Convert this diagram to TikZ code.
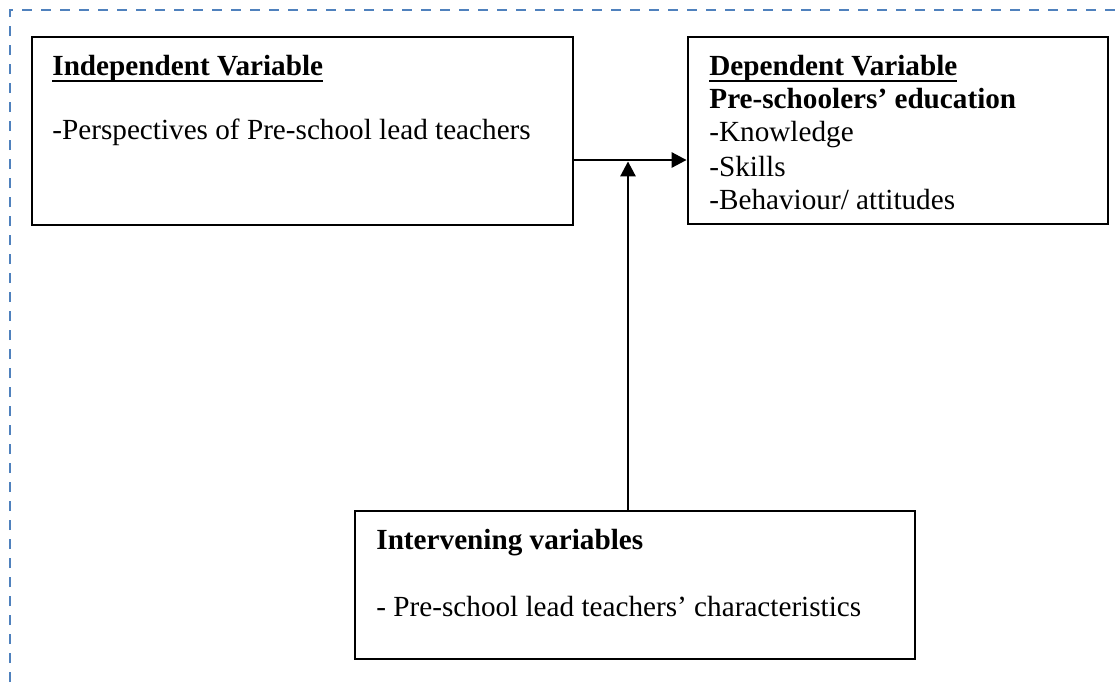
\documentclass[tikz,border=0pt]{standalone}
\usepackage{fontspec}
\setmainfont{Liberation Serif}
\usepackage{xcolor}
\usepackage{tikz}
\usetikzlibrary{arrows.meta}

\definecolor{frameblue}{RGB}{79,129,189}
\newsavebox{\ulbox}
\newcommand{\ulheading}[1]{\sbox{\ulbox}{\textbf{#1}}%
  \rlap{\vrule height -2.3pt depth 3.3pt width \wd\ulbox}\usebox{\ulbox}}

\begin{document}
\begin{tikzpicture}[x=0.5pt,y=-0.5pt,
    varbox/.style={draw,line width=1.4pt,rectangle,inner sep=0pt},
    txt/.style={anchor=base west,inner sep=0pt,font=\fontsize{14.6pt}{17pt}\selectfont},
    arr/.style={line width=1.4pt,-{Triangle[length=7.5pt,width=7.5pt]}}]
    \useasboundingbox (0,0) rectangle (1118,682);
    % dashed frame
    \draw[frameblue,line width=1.2pt,dash pattern=on 5pt off 4.5pt]
      (10,682) -- (10,10) -- (1118,10);
    % boxes
    \node[varbox,minimum width=270.5pt,minimum height=94pt] (indep) at (302.5,131) {};
    \node[varbox,minimum width=210pt,minimum height=93.5pt] (dep) at (898,130.5) {};
    \node[varbox,minimum width=280pt,minimum height=74pt] (interv) at (635,585) {};
    % texts
    \node[txt] (indephead) at (52,75) {\ulheading{Independent Variable}};
    \node[txt] (indepitem) at (52,139) {-Perspectives of Pre-school lead teachers};
    \node[txt] (dephead) at (709,75) {\ulheading{Dependent Variable}};
    \node[txt] (depsub) at (709,108) {\textbf{Pre-schoolers’ education}};
    \node[txt] (depknow) at (709,141) {-Knowledge};
    \node[txt] (depskill) at (709,176) {-Skills};
    \node[txt] (depbehav) at (709,209) {-Behaviour/ attitudes};
    \node[txt] (intervhead) at (376,549) {\textbf{Intervening variables}};
    \node[txt] (intervitem) at (376,616) {- Pre-school lead teachers’ characteristics};
    % arrows
    \coordinate (hub) at (628,160);
    \draw[arr] (indep.east |- hub) -- (dep.west |- hub);
    \draw[arr,shorten >=0.7pt] (interv.north -| hub) -- (hub);
  \end{tikzpicture}
\end{document}
